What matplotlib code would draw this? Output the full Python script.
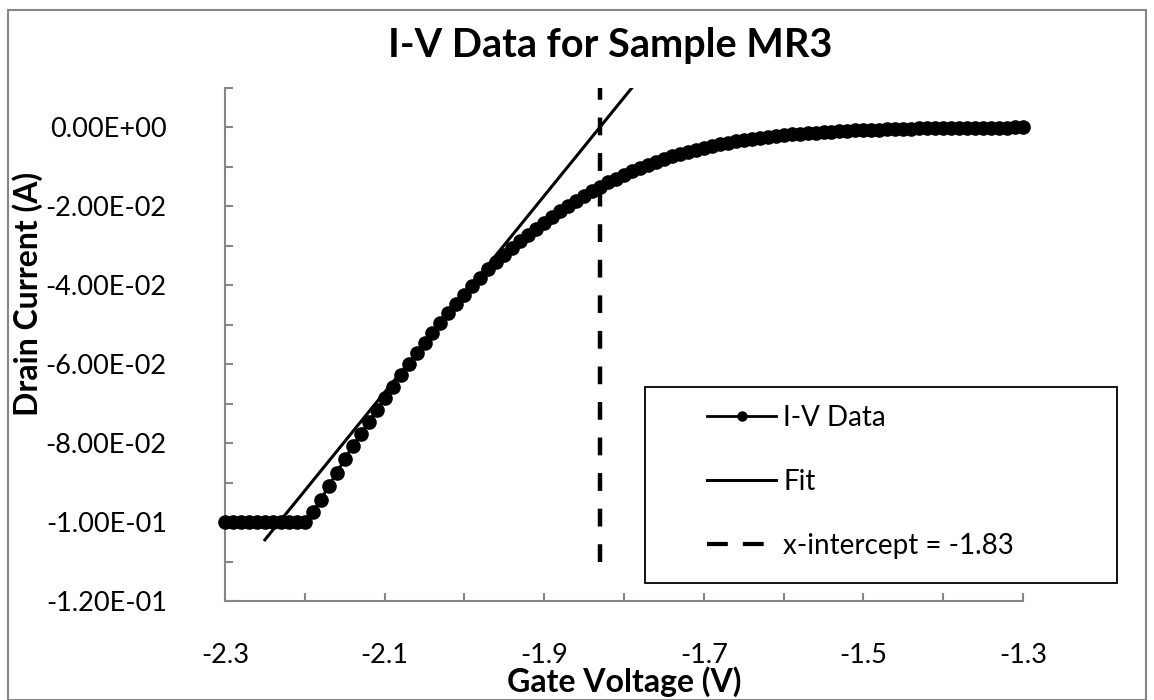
import matplotlib
matplotlib.use("Agg")
import matplotlib.pyplot as plt
from matplotlib.lines import Line2D
from matplotlib.patches import Rectangle

plt.rcParams['font.family'] = ['Lato', 'DejaVu Sans']

# gate sweep (V)
gate_v = [-2.30, -2.29, -2.28, -2.27, -2.26, -2.25, -2.24, -2.23, -2.22, -2.21,
          -2.20, -2.19, -2.18, -2.17, -2.16, -2.15, -2.14, -2.13, -2.12, -2.11,
          -2.10, -2.09, -2.08, -2.07, -2.06, -2.05, -2.04, -2.03, -2.02, -2.01,
          -2.00, -1.99, -1.98, -1.97, -1.96, -1.95, -1.94, -1.93, -1.92, -1.91,
          -1.90, -1.89, -1.88, -1.87, -1.86, -1.85, -1.84, -1.83, -1.82, -1.81,
          -1.80, -1.79, -1.78, -1.77, -1.76, -1.75, -1.74, -1.73, -1.72, -1.71,
          -1.70, -1.69, -1.68, -1.67, -1.66, -1.65, -1.64, -1.63, -1.62, -1.61,
          -1.60, -1.59, -1.58, -1.57, -1.56, -1.55, -1.54, -1.53, -1.52, -1.51,
          -1.50, -1.49, -1.48, -1.47, -1.46, -1.45, -1.44, -1.43, -1.42, -1.41,
          -1.40, -1.39, -1.38, -1.37, -1.36, -1.35, -1.34, -1.33, -1.32, -1.31,
          -1.30]
# drain current (A)
drain_i = [-0.1000, -0.1000, -0.1000, -0.1000, -0.1000, -0.1000, -0.1000, -0.1000, -0.1000, -0.1000,
           -0.1000, -0.0975, -0.0943, -0.0909, -0.0875, -0.0841, -0.0808, -0.0777, -0.0747, -0.0717,
           -0.0687, -0.0657, -0.0628, -0.0600, -0.0572, -0.0546, -0.0520, -0.0495, -0.0471, -0.0448,
           -0.0425, -0.0403, -0.0381, -0.0360, -0.0341, -0.0323, -0.0306, -0.0289, -0.0273, -0.0258,
           -0.0243, -0.0228, -0.0213, -0.0200, -0.0187, -0.0174, -0.0162, -0.0151, -0.0140, -0.0130,
           -0.0121, -0.0112, -0.0103, -0.0095, -0.0087, -0.0080, -0.0073, -0.0067, -0.0062, -0.0057,
           -0.0052, -0.0047, -0.0043, -0.0039, -0.0036, -0.0033, -0.0030, -0.0027, -0.0025, -0.0022,
           -0.0020, -0.0018, -0.0017, -0.0015, -0.0014, -0.0012, -0.0011, -0.0010, -0.0009, -0.0008,
           -0.0007, -0.0006, -0.0006, -0.0005, -0.0005, -0.0004, -0.0004, -0.0003, -0.0003, -0.0003,
           -0.0002, -0.0002, -0.0002, -0.0002, -0.0001, -0.0001, -0.0001, -0.0001, -0.0001, -0.0000,
           0.0000]

fit_v = [-2.25, -1.79]
fit_i = [-0.1045, 0.0100]

icept_v = [-1.83, -1.83]
icept_i = [-0.110, 0.010]

xticks_major = [-2.3, -2.1, -1.9, -1.7, -1.5, -1.3]
xticks_minor = [-2.2, -2.0, -1.8, -1.6, -1.4]
yticks_major = [-0.12, -0.10, -0.08, -0.06, -0.04, -0.02, 0.0]
yticks_minor = [-0.11, -0.09, -0.07, -0.05, -0.03, -0.01, 0.01]
ytick_labels = ["-1.20E-01", "-1.00E-01", "-8.00E-02", "-6.00E-02", "-4.00E-02", "-2.00E-02", "0.00E+00"]

W, H = 1154, 700
fig = plt.figure(figsize=(W / 100, H / 100), dpi=100)
ax = fig.add_axes([225 / W, 1 - 601 / H, (1023 - 225) / W, (601 - 87.7) / H])

ax.plot(gate_v, drain_i, color='black', lw=2.2, marker='o', ms=9.5, zorder=3, clip_on=False)
ax.plot(fit_v, fit_i, color='black', lw=2.2, zorder=4)
ax.plot(icept_v, icept_i, color='black', lw=3.2, dashes=(4.0, 4.0), zorder=4)

ax.set_xlim(-2.3, -1.3)
ax.set_ylim(-0.12, 0.01)

grey = '#868686'
for s in ['top', 'right']:
    ax.spines[s].set_visible(False)
for s in ['left', 'bottom']:
    ax.spines[s].set_color(grey)
    ax.spines[s].set_linewidth(1.5)

ax.set_xticks(xticks_major)
ax.set_xticks(xticks_minor, minor=True)
ax.set_xticklabels(["-2.3", "-2.1", "-1.9", "-1.7", "-1.5", "-1.3"])
ax.set_yticks(yticks_major)
ax.set_yticks(yticks_minor, minor=True)
ax.set_yticklabels(ytick_labels)
ax.tick_params(which='both', direction='in', length=6, width=1.5, color=grey)
ax.tick_params(axis='x', which='major', labelsize=19.5, pad=30)
ax.tick_params(axis='y', which='major', labelsize=19.5, pad=42)

fig.text(610 / W, 1 - 46 / H, "I-V Data for Sample MR3", ha='center', va='center',
         fontsize=28.5, fontweight='bold')
fig.text(624 / W, 1 - 682 / H, "Gate Voltage (V)", ha='center', va='center',
         fontsize=23, fontweight='bold')
fig.text(28 / W, 1 - 294 / H, "Drain Current (A)", ha='center', va='center',
         fontsize=23, fontweight='bold', rotation=90)

# legend
handles = [Line2D([], [], color='black', lw=2, marker='o', ms=6.5),
           Line2D([], [], color='black', lw=2.2),
           Line2D([], [], color='black', lw=3, dashes=(5.0, 3.6))]
fig.patches.append(Rectangle((645 / W, 1 - 583 / H), (1117 - 645) / W, (583 - 387) / H,
                             transform=fig.transFigure, fill=False, ec='black', lw=1.3))
leg = fig.legend(handles, ["I-V Data", "Fit", "x-intercept = -1.83"],
                 loc='upper left', bbox_to_anchor=(707 / W, 1 - 405 / H),
                 frameon=False, fontsize=20, handlelength=2.5, handletextpad=0.25,
                 labelspacing=1.37, borderpad=0, borderaxespad=0)

# chart border
fig.patches.append(Rectangle((8 / W, 1 - 700 / H), (1146 - 8) / W, (700 - 10) / H,
                             transform=fig.transFigure, fill=False, ec=grey, lw=1.5))

fig.savefig("out.png", dpi=100, facecolor='white')
